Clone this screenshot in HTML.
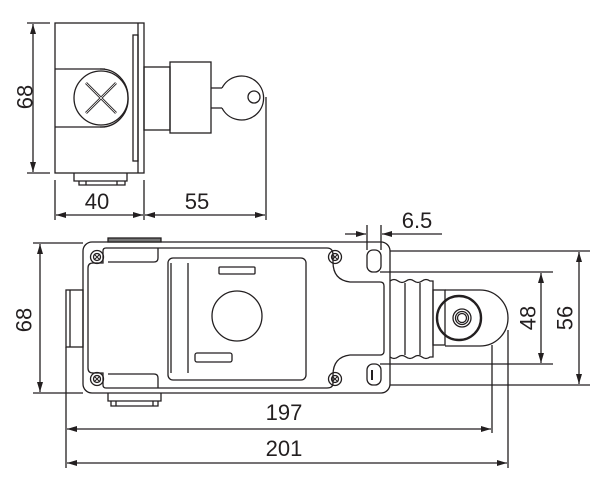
<!DOCTYPE html>
<html><head><meta charset="utf-8"><style>
html,body{margin:0;padding:0;background:#fff;}
svg{display:block;}
text{font-family:"Liberation Sans",sans-serif;font-size:22px;fill:#231f20;}
</style></head><body>
<svg width="600" height="479" viewBox="0 0 600 479" xmlns="http://www.w3.org/2000/svg">
<defs>
<marker id="a" viewBox="0 0 10 6" refX="10" refY="3" markerWidth="10" markerHeight="6" orient="auto-start-reverse" markerUnits="userSpaceOnUse"><path d="M0,0 L10,3 L0,6 Z" fill="#231f20"/></marker>
</defs>
<g fill="none" stroke="#231f20" stroke-width="1.3">
<!-- TOP VIEW -->
<line x1="27" y1="23" x2="50" y2="23"/><line x1="27" y1="173" x2="50" y2="173"/>
<line x1="33" y1="24" x2="33" y2="172" marker-start="url(#a)" marker-end="url(#a)"/>
<rect x="55" y="23" width="89" height="150"/>
<line x1="138" y1="23" x2="138" y2="173"/>
<rect x="133" y="35" width="5" height="126"/>
<path d="M55,69 H105 M55,127 H105"/>
<path d="M100,69 A27,28 0 0 1 128,97 A27,28 0 0 1 100,127"/>
<circle cx="101" cy="98" r="27"/>
<path d="M86,83 L116,113 M116,83 L86,113" stroke-width="2.6"/>
<path d="M86,83 L116,113 M116,83 L86,113" stroke="#fff" stroke-width="0.8"/>
<path d="M74,173 V181 H127 V173 M79,181 V185 H125 V181 M86,181 V185 M117,181 V185"/>
<rect x="144" y="67" width="26" height="63"/>
<rect x="170" y="62" width="41" height="71"/>
<path d="M211,88 H222 M211,108 H222"/>
<path d="M222,88 A22,22 0 1 1 222,108"/>
<circle cx="254" cy="97" r="6"/>
<line x1="266" y1="97" x2="266" y2="220"/>
<line x1="55" y1="180" x2="55" y2="220"/><line x1="144" y1="180" x2="144" y2="220"/>
<line x1="56" y1="215" x2="143" y2="215" marker-start="url(#a)" marker-end="url(#a)"/>
<line x1="145" y1="215" x2="265" y2="215" marker-start="url(#a)" marker-end="url(#a)"/>

<!-- BOTTOM VIEW -->
<line x1="33" y1="243" x2="83" y2="243"/><line x1="33" y1="393" x2="83" y2="393"/>
<line x1="40" y1="244" x2="40" y2="392" marker-start="url(#a)" marker-end="url(#a)"/>
<rect x="83" y="242" width="307" height="151" rx="9"/>
<path d="M88,268 Q88,263 93,263 H103 V251 Q103,248 106,248 H327 Q333,248 333,255 V262 Q333,280 350,282 H380 Q384,282 384,286 V351 Q384,355 380,355 H350 Q333,357 333,375 V383 Q333,388 327,388 H106 Q103,388 103,385 V373 H93 Q88,373 88,368 Z"/>
<path d="M158,248 V258 Q158,262 154,262 H108 M158,388 V378 Q158,374 154,374 H108"/>
<g>
<circle cx="97" cy="257" r="6.5"/><circle cx="97" cy="257" r="3.5"/>
<circle cx="335" cy="257" r="6.5"/><circle cx="335" cy="257" r="3.5"/>
<circle cx="97" cy="379" r="6.5"/><circle cx="97" cy="379" r="3.5"/>
<circle cx="335" cy="379" r="6.5"/><circle cx="335" cy="379" r="3.5"/>
<path d="M94,254 L100,260 M100,254 L94,260 M332,254 L338,260 M338,254 L332,260 M94,376 L100,382 M100,376 L94,382 M332,376 L338,382 M338,376 L332,382" stroke-width="1"/>
</g>
<rect x="108" y="238" width="53" height="4" fill="#777"/>
<path d="M108,393 V401 H161 V393 M111,401 V406 H158 V401 M116,401 V406 M153,401 V406"/>
<rect x="66" y="290" width="17" height="57"/><line x1="70" y1="290" x2="70" y2="347"/>
<rect x="168" y="258" width="138" height="122" rx="5"/>
<line x1="171" y1="263" x2="171" y2="373"/><line x1="188" y1="263" x2="188" y2="373"/>
<rect x="219" y="267" width="36" height="7" rx="1"/>
<circle cx="237" cy="316" r="25"/>
<rect x="195" y="353" width="37" height="9" rx="2"/>
<rect x="367" y="250" width="14" height="22" rx="6"/>
<rect x="367" y="364" width="14" height="21" rx="6"/><line x1="372" y1="370" x2="372" y2="380" stroke-width="2"/>
<!-- bellows -->
<path d="M390,281 Q394,278 398,281 Q402,284 406,281 Q410,278 414,281 Q418,284 422,281 Q426,278 430,281 L433,281 V357 L430,357 Q426,360 422,357 Q418,354 414,357 Q410,360 406,357 Q402,354 398,357 Q394,360 390,357"/>
<line x1="405" y1="283" x2="405" y2="355"/><line x1="420" y1="283" x2="420" y2="355"/>
<rect x="433" y="290" width="12" height="55"/>
<path d="M445,290 H480 A28,28 0 0 1 480,346 H445"/>
<circle cx="459" cy="318" r="22" stroke-width="2.4"/>
<circle cx="462" cy="318" r="9"/><circle cx="462" cy="318" r="6.5"/><circle cx="462" cy="318" r="4.5"/>
<!-- dims right -->
<line x1="390" y1="251" x2="590" y2="251"/><line x1="380" y1="272" x2="553" y2="272"/>
<line x1="380" y1="364" x2="553" y2="364"/><line x1="390" y1="385" x2="590" y2="385"/>
<line x1="541" y1="273" x2="541" y2="363" marker-start="url(#a)" marker-end="url(#a)"/>
<line x1="579" y1="252" x2="579" y2="384" marker-start="url(#a)" marker-end="url(#a)"/>
<line x1="367" y1="225" x2="367" y2="250"/><line x1="381" y1="225" x2="381" y2="250"/>
<line x1="345" y1="234" x2="366" y2="234" marker-end="url(#a)"/>
<line x1="442" y1="234" x2="382" y2="234" marker-end="url(#a)"/>
<!-- bottom dims -->
<line x1="66" y1="347" x2="66" y2="468"/>
<line x1="492" y1="345" x2="492" y2="433"/><line x1="508" y1="330" x2="508" y2="468"/>
<line x1="67" y1="429" x2="491" y2="429" marker-start="url(#a)" marker-end="url(#a)"/>
<line x1="67" y1="463" x2="507" y2="463" marker-start="url(#a)" marker-end="url(#a)"/>
</g>
<text x="97" y="209" text-anchor="middle">40</text>
<text x="197" y="209" text-anchor="middle">55</text>
<text transform="translate(25,97) rotate(-90)" text-anchor="middle" dominant-baseline="central">68</text>
<text transform="translate(24,320) rotate(-90)" text-anchor="middle" dominant-baseline="central">68</text>
<text x="417" y="228" text-anchor="middle">6.5</text>
<text transform="translate(528,318) rotate(-90)" text-anchor="middle" dominant-baseline="central">48</text>
<text transform="translate(565,318) rotate(-90)" text-anchor="middle" dominant-baseline="central">56</text>
<text x="284" y="420" text-anchor="middle">197</text>
<text x="284" y="456" text-anchor="middle">201</text>
</svg>
</body></html>
